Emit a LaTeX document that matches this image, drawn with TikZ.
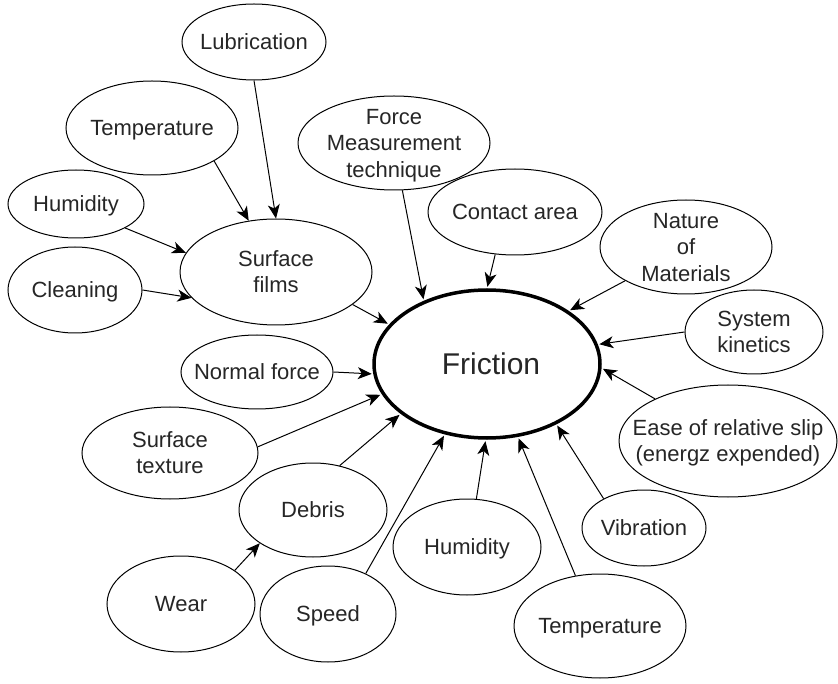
\documentclass[tikz,border=0pt]{standalone}
\usepackage{fontspec}
\setmainfont{Liberation Sans}
\usetikzlibrary{arrows.meta,shapes.geometric}
\newcommand\lbl[1]{\smash{\makebox[0pt]{\raisebox{-7.5pt}{\begin{tabular}{@{}c@{}}#1\end{tabular}}}}}
\begin{document}
\begin{tikzpicture}[x=1pt,y=-1pt,
  bub/.style={draw=black,line width=1pt,shape=ellipse,inner sep=0pt,fill=white,
    font=\fontsize{22}{26.5}\selectfont,text=black!85},
  conn/.style={draw=black,line width=1pt,-{Stealth[length=14pt,width=12pt,inset=4pt]}},
  ]
\useasboundingbox (0,0) rectangle (838,684);
\fill[white] (0,0) rectangle (838,684);
\newcommand\bubble[6]{\node[bub,minimum width=#4*2pt,minimum height=#5*2pt] (#1) at (#2,#3) {\lbl{#6}};}
\bubble{lub}{254}{42}{72}{38}{Lubrication}
\bubble{tempa}{152}{128}{86}{47}{Temperature}
\bubble{huma}{76}{204}{68}{34}{Humidity}
\bubble{clean}{75}{290}{67}{43}{Cleaning}
\bubble{films}{276}{272}{96}{53}{Surface\\films}
\bubble{force}{394}{143}{96}{47}{Force\\Measurement\\technique}
\bubble{contact}{515}{212}{87}{43}{Contact area}
\bubble{nature}{686}{247}{86}{47}{Nature\\of\\Materials}
\bubble{kin}{754}{332}{69}{42}{System\\kinetics}
\bubble{normal}{257}{372}{76}{37}{Normal force}
\bubble{tex}{170}{453}{88}{46}{Surface\\texture}
\bubble{debris}{313}{510}{74}{47}{Debris}
\bubble{wear}{181}{604}{74}{48}{Wear}
\bubble{speed}{328}{614}{68}{48}{Speed}
\bubble{humb}{467}{547}{74}{48}{Humidity}
\bubble{tempb}{600}{626}{86}{52}{Temperature}
\bubble{vib}{644}{528}{62}{38}{Vibration}
\bubble{ease}{728}{441}{109}{56}{Ease of relative slip\\(energz expended)}
\node[draw=black,line width=3.5pt,shape=ellipse,inner sep=0pt,fill=white,
  minimum width=226pt,minimum height=148pt,font=\fontsize{30}{34}\selectfont,text=black!85]
  (fric) at (487,364) {\smash{\makebox[0pt]{\raisebox{-10.5pt}{\hspace{8pt}Friction}}}};
% connectors
\draw[conn] (lub.south) -- (films.north);
\draw[conn] (tempa.-28) -- (films.118);
\draw[conn] (huma.-26) -- (films.168);
\draw[conn] (clean.east) -- (films.197);
\draw[conn,shorten >=1.5pt] (films.-23.5) -- (fric.158.5);
\draw[conn,shorten >=1.5pt] (force.-80) -- (fric.135);
\draw[conn,shorten >=1.5pt] (contact.-115) -- (fric.90);
\draw[conn,shorten >=1.5pt] (nature.-151) -- (fric.33.4);
\draw[conn,shorten >=1.5pt] (kin.west) -- (fric.10.7);
\draw[conn,shorten >=1.5pt] (ease.150) -- (fric.-2);
\draw[conn,shorten >=1.5pt] (vib.144.8) -- (fric.-41.3);
\draw[conn,shorten >=1.5pt] (tempb.116) -- (fric.-67.8);
\draw[conn,shorten >=1.5pt] (humb.79) -- (fric.-91);
\draw[conn,shorten >=1.5pt] (speed.47) -- (fric.-121.8);
\draw[conn,shorten >=1.5pt] (debris.59.6) -- (fric.-150);
\draw[conn] (wear.32) -- (debris.-148);
\draw[conn,shorten >=1.5pt] (tex.4.6) -- (fric.-164);
\draw[conn,shorten >=1.5pt] (normal.east) -- (fric.-175.5);
\end{tikzpicture}
\end{document}
